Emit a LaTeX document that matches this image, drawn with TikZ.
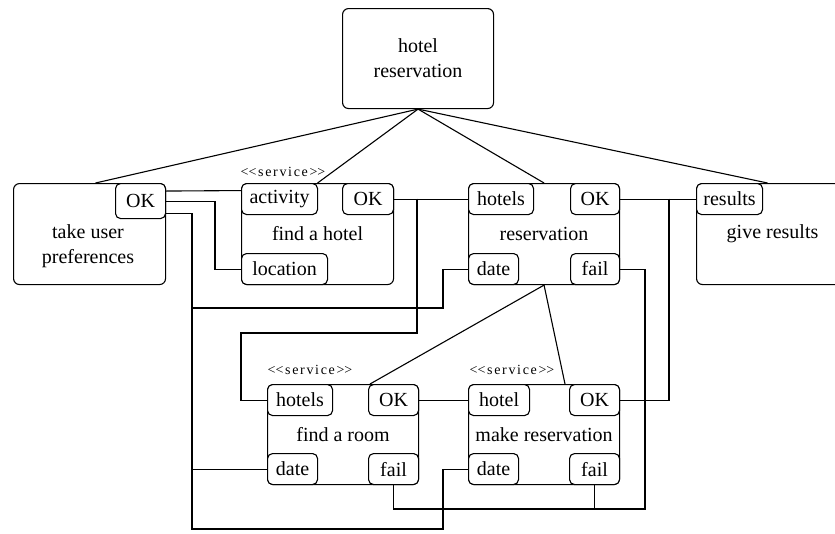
\documentclass[tikz,border=0pt]{standalone}
\usepackage{fontspec}
\setmainfont{Liberation Serif}
\usetikzlibrary{positioning}
\tikzset{
  font=\fontsize{20}{25}\selectfont,
  wire/.style={draw=black,line width=1.1pt},
  svcbox/.style={rectangle,rounded corners=6pt,draw=black,line width=1.1pt,fill=white,
    minimum width=152pt,minimum height=101pt,inner sep=0pt,align=center,anchor=north west},
  port/.style={rectangle,rounded corners=5pt,draw=black,line width=1.1pt,fill=white,
    minimum height=31pt,inner sep=0pt,align=center},
  stereo/.style={font=\fontsize{14}{16}\selectfont\addfontfeatures{LetterSpace=12}},
}

\begin{document}
\begin{tikzpicture}[x=1pt,y=-1pt]
\useasboundingbox (0,0) rectangle (835,533);
\clip (0,0) rectangle (835,533);
\fill[white] (0,0) rectangle (835,533);

% composite and its activities
\node[svcbox,minimum width=151pt,minimum height=100pt] (hr) at (342,8) {hotel\\reservation};

\node[svcbox] (tup) at (13,183) {};
\node[align=center] (tuptxt) at (88,246) {take user\\preferences};
\node[port,minimum width=50pt,minimum height=35pt,anchor=north east] (tupok) at (tup.north east) {OK};

\node[svcbox] (fh) at (241,183) {find a hotel};
\node[stereo] (fhst) at (283,172) {<\kern0pt<service>\kern0pt>};
\node[port,minimum width=76pt,anchor=north west] (fhact) at (fh.north west) {activity};
\node[port,minimum width=51pt,anchor=north east] (fhok) at (fh.north east) {OK};
\node[port,minimum width=86pt,anchor=south west] (fhloc) at (fh.south west) {location};

\node[svcbox,minimum width=151pt] (res) at (468,183) {reservation};
\node[port,minimum width=65pt,anchor=north west] (reshot) at (res.north west) {hotels};
\node[port,minimum width=49pt,anchor=north east] (resok) at (res.north east) {OK};
\node[port,minimum width=50pt,anchor=south west] (resdate) at (res.south west) {date};
\node[port,minimum width=49pt,anchor=south east] (resfail) at (res.south east) {fail};

\node[svcbox] (gr) at (696,183) {give results};
\node[port,minimum width=66pt,anchor=north west] (grres) at (gr.north west) {results};

\node[svcbox,minimum width=151pt,minimum height=100pt] (fr) at (267,384) {find a room};
\node[stereo] (frst) at (310,370) {<\kern0pt<service>\kern0pt>};
\node[port,minimum width=65pt,anchor=north west] (frhot) at (fr.north west) {hotels};
\node[port,minimum width=50pt,anchor=north east] (frok) at (fr.north east) {OK};
\node[port,minimum width=50pt,anchor=south west] (frdate) at (fr.south west) {date};
\node[port,minimum width=50pt,anchor=south east] (frfail) at (fr.south east) {fail};

\node[svcbox,minimum width=151pt,minimum height=100pt] (mr) at (468,384) {make reservation};
\node[stereo] (mrst) at (512,370) {<\kern0pt<service>\kern0pt>};
\node[port,minimum width=61pt,anchor=north west] (mrhot) at (mr.north west) {hotel};
\node[port,minimum width=50pt,anchor=north east] (mrok) at (mr.north east) {OK};
\node[port,minimum width=50pt,anchor=south west] (mrdate) at (mr.south west) {date};
\node[port,minimum width=50pt,anchor=south east] (mrfail) at (mr.south east) {fail};

% decomposition lines
\draw[wire] (hr.south) -- ([xshift=6pt]tup.north);
\draw[wire] (hr.south) -- (fh.north);
\draw[wire] (hr.south) -- (res.north);
\draw[wire] (hr.south) -- ([xshift=-5pt]gr.north);
\draw[wire] (res.south) -- ([xshift=2pt]frok.north west);
\draw[wire] (res.south) -- ([xshift=-4pt]mrok.north west);

% junctions
\coordinate (busLeft)   at (192,529);
\coordinate (resBranch) at (192,308);
\coordinate (hotBranch) at (417,198.5);
\coordinate (hotTurn)   at (241,333);
\coordinate (okBranch)  at (669,198.5);
\coordinate (failBus)   at (645,509);

% data flow
\draw[wire] ([yshift=10pt]tupok.east) -- ([yshift=8.5pt]fhact.west);
\draw[wire] (tupok.east) -| ([xshift=-26pt]fhloc.west) -- (fhloc.west);
\draw[wire] ([yshift=-12pt]tupok.east) -| (busLeft) -| ([xshift=-25pt]mrdate.west) -- (mrdate.west);
\draw[wire] (resBranch) -| ([xshift=-25pt]resdate.west) -- (resdate.west);
\draw[wire] (frdate.west) -- (frdate.west -| busLeft);

\draw[wire] (fhok.east) -- (reshot.west);
\draw[wire] (hotBranch) |- (hotTurn) |- (frhot.west);
\draw[wire] (frok.east) -- (mrhot.west);

\draw[wire] (resok.east) -- (grres.west);
\draw[wire] (okBranch) |- (mrok.east);

\draw[wire] (resfail.east) -| (failBus) -| (frfail.south);
\draw[wire] (mrfail.south) -- (mrfail.south |- failBus);

\end{tikzpicture}
\end{document}
